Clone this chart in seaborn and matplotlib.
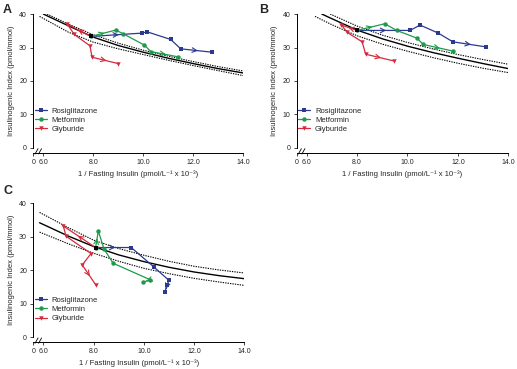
import matplotlib
matplotlib.use("Agg")
import matplotlib.pyplot as plt
import seaborn as sns
import numpy as np

# ---------------- data ----------------
series_names = ["Rosiglitazone", "Metformin", "Glyburide"]

# Panel A
a_rosi_x = [7.9, 9.95, 10.15, 11.1, 11.5, 12.75]
a_rosi_y = [33.3, 34.3, 34.7, 32.4, 29.6, 28.6]
a_met_x = [7.9, 8.9, 9.2, 10.05, 10.3, 11.4]
a_met_y = [33.3, 35.2, 34.1, 30.7, 28.8, 27.2]
a_gly_x = [7.9, 6.96, 7.24, 7.87, 7.95, 9.0]
a_gly_y = [33.3, 37.0, 33.9, 30.5, 27.1, 25.2]
a_fit_x = [6.0, 7, 8, 9, 10, 11, 12, 13, 14]
a_fit_y = [40.0, 36.5, 33.1, 30.6, 28.6, 26.8, 25.2, 23.7, 22.4]
a_up_x = [6.15, 7, 8, 9, 10, 11, 12, 13, 14]
a_up_y = [40.0, 37.0, 33.8, 31.3, 29.2, 27.4, 25.8, 24.3, 23.0]
a_lo_x = [5.85, 7, 8, 9, 10, 11, 12, 13, 14]
a_lo_y = [39.3, 34.6, 31.6, 29.6, 27.9, 26.2, 24.6, 23.1, 21.6]

# Panel B
b_rosi_x = [8.0, 10.1, 10.5, 11.22, 11.8, 13.1]
b_rosi_y = [35.1, 35.1, 36.7, 34.3, 31.7, 30.2]
b_met_x = [8.0, 9.1, 9.57, 10.37, 10.63, 11.82]
b_met_y = [35.1, 37.1, 35.1, 32.8, 30.9, 28.9]
b_gly_x = [8.0, 7.38, 7.61, 8.2, 8.34, 9.45]
b_gly_y = [35.1, 36.7, 34.5, 31.7, 28.0, 26.0]
b_fit_x = [6.6, 7, 8, 9, 10, 11, 12, 13, 14]
b_fit_y = [40.0, 38.6, 35.2, 32.6, 30.4, 28.5, 26.8, 25.2, 23.7]
b_up_x = [6.93, 8, 9, 10, 11, 12, 13, 14]
b_up_y = [40.0, 36.4, 33.7, 31.5, 29.6, 27.9, 26.4, 25.0]
b_lo_x = [6.33, 7, 8, 9, 10, 11, 12, 13, 14]
b_lo_y = [39.3, 36.8, 33.5, 31.0, 28.9, 27.0, 25.3, 23.8, 22.5]

# Panel C
c_rosi_x = [8.08, 9.5, 10.4, 11.0, 10.93, 10.84]
c_rosi_y = [26.8, 26.8, 21.0, 17.0, 15.6, 13.5]
c_met_x = [8.08, 8.19, 8.42, 8.78, 10.25, 9.98]
c_met_y = [26.8, 31.7, 26.3, 22.1, 17.2, 16.4]
c_gly_x = [8.08, 6.8, 6.9, 7.9, 7.55, 8.1]
c_gly_y = [26.8, 33.2, 30.2, 25.0, 21.6, 15.5]
c_fit_x = [5.85, 7, 8, 9, 10, 11, 12, 13, 14]
c_fit_y = [34.2, 30.2, 27.1, 24.6, 22.6, 20.9, 19.5, 18.4, 17.5]
c_up_x = [5.85, 7, 8, 9, 10, 11, 12, 13, 14]
c_up_y = [37.3, 32.7, 29.0, 26.5, 24.5, 22.7, 21.2, 20.1, 19.2]
c_lo_x = [5.85, 7, 8, 9, 10, 11, 12, 13, 14]
c_lo_y = [31.4, 27.9, 25.1, 22.7, 20.6, 19.0, 17.6, 16.5, 15.5]

x_ticks = [5.6, 6, 8, 10, 12, 14]
x_ticklabels = ["0", "6.0", "8.0", "10.0", "12.0", "14.0"]
y_ticks = [0, 10, 20, 30, 40]
panel_labels = ["A", "B", "C"]

# ---------------- style ----------------
sns.set_theme(style="ticks")
plt.rcParams["font.family"] = ["Liberation Sans", "DejaVu Sans"]

colors = ["#2b3a8f", "#1f9a48", "#d42a3c"]
markers = ["s", "o", "v"]

fig = plt.figure(figsize=(5.17, 3.69), dpi=100)
axA = fig.add_axes([0.0644, 0.599, 0.406, 0.363])
axB = fig.add_axes([0.5737, 0.599, 0.4095, 0.363])
axC = fig.add_axes([0.0644, 0.086, 0.408, 0.363])

panels = [
    (axA, [(a_rosi_x, a_rosi_y), (a_met_x, a_met_y), (a_gly_x, a_gly_y)],
     (a_fit_x, a_fit_y), (a_up_x, a_up_y), (a_lo_x, a_lo_y)),
    (axB, [(b_rosi_x, b_rosi_y), (b_met_x, b_met_y), (b_gly_x, b_gly_y)],
     (b_fit_x, b_fit_y), (b_up_x, b_up_y), (b_lo_x, b_lo_y)),
    (axC, [(c_rosi_x, c_rosi_y), (c_met_x, c_met_y), (c_gly_x, c_gly_y)],
     (c_fit_x, c_fit_y), (c_up_x, c_up_y), (c_lo_x, c_lo_y)),
]
label_pos = [(0.006, 0.99), (0.501, 0.99), (0.006, 0.498)]


def add_arrow(ax, xs, ys, i, color):
    x0, y0, x1, y1 = xs[i], ys[i], xs[i + 1], ys[i + 1]
    xa = x0 + 0.45 * (x1 - x0)
    ya = y0 + 0.45 * (y1 - y0)
    xb = x0 + 0.55 * (x1 - x0)
    yb = y0 + 0.55 * (y1 - y0)
    ax.annotate("", xy=(xb, yb), xytext=(xa, ya),
                arrowprops=dict(arrowstyle="->,head_length=0.6,head_width=0.3",
                                color=color, lw=0.8, shrinkA=0, shrinkB=0,
                                mutation_scale=5.5))


for (ax, series, fit, up, lo), lab, lp in zip(panels, panel_labels, label_pos):
    sns.lineplot(x=up[0], y=up[1], ax=ax, color="black", lw=0.8,
                 linestyle=(0, (1.2, 1.0)), estimator=None, sort=False)
    sns.lineplot(x=lo[0], y=lo[1], ax=ax, color="black", lw=0.8,
                 linestyle=(0, (1.2, 1.0)), estimator=None, sort=False)
    sns.lineplot(x=fit[0], y=fit[1], ax=ax, color="black", lw=1.0,
                 estimator=None, sort=False)
    for (xs, ys), name, c, m in zip(series, series_names, colors, markers):
        sns.lineplot(x=xs, y=ys, ax=ax, color=c, lw=0.9, marker=m,
                     markersize=3.2, markeredgewidth=0, label=name,
                     estimator=None, sort=False)
        add_arrow(ax, xs, ys, 0, c)
        add_arrow(ax, xs, ys, len(xs) - 2, c)
    # baseline point
    bx, by = series[0][0][0], series[0][1][0]
    sns.scatterplot(x=[bx], y=[by], ax=ax, color="black", s=9, marker="s",
                    linewidth=0, zorder=5)

    ax.set_xlim(5.6, 14.0)
    ax.set_ylim(0, 40)
    ax.set_xticks(x_ticks)
    ax.set_xticklabels(x_ticklabels)
    ax.set_yticks(y_ticks)
    ax.tick_params(labelsize=5, length=2.5, width=0.6, pad=2)
    for s in ["top", "right"]:
        ax.spines[s].set_visible(False)
    for s in ["left", "bottom"]:
        ax.spines[s].set_linewidth(0.7)
        ax.spines[s].set_color("black")
    ax.spines["bottom"].set_position(("outward", 3.5))
    ax.set_xlabel("1 / Fasting Insulin (pmol/L\u207b\u00b9 x 10\u207b\u00b3)",
                  fontsize=5.5, labelpad=3)
    ax.set_ylabel("Insulinogenic Index (pmol/mmol)", fontsize=5.5, labelpad=3)
    ax.grid(False)
    ax.legend(loc="lower left", bbox_to_anchor=(0.0, 0.1), frameon=False,
              fontsize=5.5, handlelength=1.6, handletextpad=0.6,
              labelspacing=0.25, borderaxespad=0.0, borderpad=0.2)
    # axis break marks on the (offset) bottom spine
    trans = ax.get_xaxis_transform()
    for dx in (-0.07, 0.07):
        ax.plot([5.8 + dx - 0.06, 5.8 + dx + 0.06], [-0.045, -0.005],
                color="black", lw=0.6, clip_on=False, zorder=6, transform=trans)
    fig.text(lp[0], lp[1], lab, fontsize=9, fontweight="bold",
             va="top", ha="left")

fig.savefig("out.png", dpi=100)
